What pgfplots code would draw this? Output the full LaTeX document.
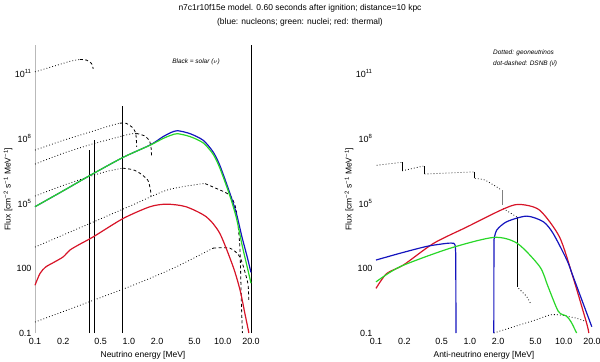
\documentclass[border=0pt]{standalone}
\usepackage{pgfplots}
\pgfplotsset{compat=1.18}
\usepackage{fontspec}
\setmainfont{Liberation Sans}

\definecolor{nucblue}{RGB}{20,20,190}
\definecolor{nucgreen}{RGB}{40,215,40}
\definecolor{thred}{RGB}{215,20,40}

\tikzset{
  dots/.style  = {black, line width=0.8bp, dash pattern=on 0.8bp off 2.2bp, smooth, tension=0.4},
  dend/.style  = {black, line width=0.8bp, dash pattern=on 3bp off 2.5bp, smooth, tension=0.4},
  vline/.style = {black, line width=0.9bp},
  curve/.style = {line width=1.2bp, smooth, tension=0.45},
  edge/.style  = {line width=1.2bp},
}

\begin{document}
\begin{tikzpicture}
\path[use as bounding box] (0bp,0bp) rectangle (600bp,362bp);

% ---------------- neutrinos ----------------
\begin{axis}[
  at={(35bp,29bp)}, anchor=south west,
  scale only axis, width=216bp, height=288bp,
  xmode=log, ymode=log,
  xmin=0.1, xmax=20, ymin=0.1, ymax=2e12,
  clip=false,
  xtick={0.1,0.2,0.5,1,2,5,10,20},
  xticklabels={0.1,0.2,0.5,1.0,2.0,5.0,10.0,20.0},
  ytick={0.1,100,1e5,1e8,1e11},
  yticklabels={0.1,100,10\textsuperscript{5},10\textsuperscript{8},10\textsuperscript{11}},
  minor tick num=0,
  axis line style={draw=none},
  tick style={draw=none},
  x tick label style={font=\fontsize{9}{10}\selectfont, yshift=-2bp},
  y tick label style={font=\fontsize{9}{10}\selectfont},
  xlabel style={font=\fontsize{8.5}{10}\selectfont, at={(axis description cs:0.5,-0.0764)}, anchor=center},
  ylabel style={font=\fontsize{8.5}{10}\selectfont, at={(axis description cs:-0.125,0.5)}, anchor=center},
  xlabel={Neutrino energy [MeV]},
  ylabel={Flux [cm\textsuperscript{−2} s\textsuperscript{−1} MeV\textsuperscript{−1}]},
]
\addplot[gray!55, line width=0.8bp] coordinates {(0.1,0.1)(0.1,2e12)};
\addplot[vline] coordinates {(20,0.1)(20,2e12)};

% solar: pp
\addplot[dots] coordinates {(0.1,1.15e11)(0.17,2.3e11)(0.24,3.6e11)(0.30,4.3e11)};
\addplot[dend] coordinates {(0.30,4.3e11)(0.355,4.0e11)(0.40,2.8e11)(0.417,1.6e11)};
% 13N
\addplot[dots] coordinates {(0.1,2.8e7)(0.2,7.9e7)(0.4,2.0e8)(0.6,3.5e8)(0.8,4.9e8)};
\addplot[dend] coordinates {(0.8,4.9e8)(0.94,4.8e8)(1.12,2.8e8)(1.19,1.4e8)(1.21,4.0e7)};
% 15O
\addplot[dots] coordinates {(0.1,6.3e6)(0.2,2.0e7)(0.4,5.2e7)(0.7,1.0e8)(1.0,1.5e8)(1.2,1.66e8)};
\addplot[dend] coordinates {(1.2,1.66e8)(1.45,1.3e8)(1.65,7.9e7)(1.73,3.2e7)(1.74,1.26e7)};
% 17F
\addplot[dots] coordinates {(0.1,2.1e5)(0.2,6.6e5)(0.4,1.8e6)(0.6,3.0e6)(0.86,4.1e6)};
\addplot[dend] coordinates {(0.86,4.1e6)(1.1,3.5e6)(1.31,2.4e6)(1.59,1.15e6)(1.70,4.0e5)(1.72,2.0e5)};
% 8B
\addplot[dots] coordinates {(0.1,930)(0.3,7.2e3)(1.0,6.9e4)(2.55,4.0e5)(5.7,7.6e5)(6.5,7.9e5)};
\addplot[dend] coordinates {(6.5,7.9e5)(7.9,5.5e5)(11.9,2.3e5)(13.9,4.8e4)(15.2,1.0e3)(15.8,2.4)(16.2,0.1)};
% hep
\addplot[dots] coordinates {(0.1,0.32)(1.0,13.5)(3.0,100)(7.9,830)};
\addplot[dend] coordinates {(7.9,830)(11.9,830)(15.3,316)(18.5,20)(18.9,3)};
% lines
\addplot[vline, line width=1.3bp] coordinates {(0.384,0.1)(0.384,2.8e7)};
\addplot[vline, line width=0.7bp] coordinates {(0.43,0.1)(0.43,8.0e7)};
\addplot[vline] coordinates {(0.862,0.1)(0.862,3.0e9)};

% thermal
\addplot[curve, thred] coordinates {
 (0.1,16)(0.113,56)(0.13,112)(0.163,195)(0.2,330)(0.236,680)(0.3,1260)
 (0.417,2750)(0.87,1.95e4)(1.68,6.8e4)(2.53,8.9e4)(4.05,6.8e4)(6.7,2.3e4)
 (9.3,4000)(12.9,115)(15.3,9.5)(17.2,0.81)(18.7,0.14)(19,0.1)};
% nucleons
\addplot[curve, nucblue] coordinates {
 (0.1,6.8e4)(0.2,3.7e5)(0.39,1.95e6)(0.87,1.3e7)(1.68,4.8e7)(2.3,1.15e8)
 (2.8,1.8e8)(3.3,2.2e8)(4.5,1.6e8)(6.2,7.9e7)(7.9,2.3e7)(9.3,5.6e6)
 (11.9,2.9e5)(14,3.2e4)(16,2.8e3)(18,400)(20,63)};
% nuclei
\addplot[curve, nucgreen] coordinates {
 (0.1,6.8e4)(0.2,3.7e5)(0.39,1.95e6)(0.87,1.3e7)(1.68,4.7e7)(2.3,9.5e7)
 (2.8,1.35e8)(3.3,1.6e8)(4.5,1.17e8)(6.2,6.0e7)(7.9,1.8e7)(9.3,4.2e6)
 (11.9,2.2e5)(14,2.0e4)(16,1.26e3)(18,141)(20,20)};
\end{axis}

% ---------------- antineutrinos ----------------
\begin{axis}[
  at={(376bp,29bp)}, anchor=south west,
  scale only axis, width=216bp, height=288bp,
  xmode=log, ymode=log,
  xmin=0.1, xmax=20, ymin=0.1, ymax=2e12,
  clip=false,
  xtick={0.1,0.2,0.5,1,2,5,10,20},
  xticklabels={0.1,0.2,0.5,1.0,2.0,5.0,10.0,20.0},
  ytick={0.1,100,1e5,1e8,1e11},
  yticklabels={0.1,100,10\textsuperscript{5},10\textsuperscript{8},10\textsuperscript{11}},
  minor tick num=0,
  axis line style={draw=none},
  tick style={draw=none},
  x tick label style={font=\fontsize{9}{10}\selectfont, yshift=-2bp},
  y tick label style={font=\fontsize{9}{10}\selectfont},
  xlabel style={font=\fontsize{8.5}{10}\selectfont, at={(axis description cs:0.5,-0.0764)}, anchor=center},
  ylabel style={font=\fontsize{8.5}{10}\selectfont, at={(axis description cs:-0.125,0.5)}, anchor=center},
  xlabel={Anti-neutrino energy [MeV]},
  ylabel={Flux [cm\textsuperscript{−2} s\textsuperscript{−1} MeV\textsuperscript{−1}]},
]
% geoneutrinos (stepped)
\addplot[dots] coordinates {(0.1017,5.6e6)(0.188,7.6e6)};
\addplot[black, line width=0.7bp] coordinates {(0.19,7.6e6)(0.19,3.1e6)};
\addplot[dots] coordinates {(0.19,3.1e6)(0.318,5.1e6)};
\addplot[black, line width=0.7bp] coordinates {(0.33,5.1e6)(0.33,2.2e6)};
\addplot[dots] coordinates {(0.33,2.2e6)(1.09,2.75e6)};
\addplot[black, line width=0.7bp] coordinates {(1.12,2.75e6)(1.12,1.38e6)};
\addplot[dots] coordinates {(1.13,1.38e6)(1.45,1.15e6)(2.18,4.0e5)};
\addplot[gray, line width=0.7bp] coordinates {(2.2,4.0e5)(2.2,8.1e4)};
\addplot[dots] coordinates {(2.27,5.6e4)(3.15,2.3e4)};
\addplot[vline] coordinates {(3.18,2.3e4)(3.18,14)};
\addplot[dots] coordinates {(3.3,11.5)(4.03,4.8)(4.5,2.0)};
% DSNB
\addplot[dots] coordinates {(1.8,0.1)(3.0,0.2)(5.0,0.4)(7.1,0.68)(9.1,0.68)(13.7,0.48)(17.5,0.33)};

% thermal
\addplot[curve, thred] coordinates {
 (0.1,11.5)(0.13,56)(0.196,138)(0.41,1380)(0.93,7900)(2.2,5.0e4)(3.3,8.7e4)
 (5.5,4.8e4)(9,2750)(12.5,40)(17.5,0.29)(18.5,0.1)};
% nucleons
\addplot[curve, nucblue] coordinates {
 (0.1,234)(0.18,480)(0.347,1000)(0.566,1380)(0.676,1380)(0.70,1000)};
\addplot[edge, nucblue] coordinates {(0.70,1000)(0.708,400)(0.711,0.1)};
\addplot[edge, nucblue] coordinates {(1.80,0.1)(1.804,1950)};
\addplot[curve, nucblue] coordinates {
 (1.804,1950)(1.93,5600)(2.47,1.38e4)(4.03,2.5e4)(6.05,1.38e4)
 (7.7,4000)(10.8,234)(12.6,40)(19.9,0.195)};
% nuclei
\addplot[curve, nucgreen] coordinates {
 (0.1,23)(0.18,115)(0.61,810)(1.8,2600)(3.2,1380)(5.56,115)(6.8,14)
 (8.75,1.0)(10.7,0.6)(12,0.32)(13.7,0.1)};
\end{axis}

% titles and notes
\node[font=\fontsize{8.5}{10}\selectfont] at (300bp,354bp)
  {n7c1r10f15e model. 0.60 seconds after ignition; distance=10 kpc};
\node[font=\fontsize{8.5}{10}\selectfont] at (300bp,340bp)
  {(blue: nucleons; green: nuclei; red: thermal)};
\node[font=\fontsize{6.5}{8}\selectfont\itshape] at (196bp,300bp) {Black = solar ($\nu$)};
\node[font=\fontsize{6.5}{8}\selectfont\itshape, anchor=west, inner sep=0pt] at (493bp,309bp)
  {Dotted: geoneutrinos};
\node[font=\fontsize{6.5}{8}\selectfont\itshape, anchor=west, inner sep=0pt] at (493bp,298bp)
  {dot-dashed: DSNB (ν̄)};
\end{tikzpicture}
\end{document}
